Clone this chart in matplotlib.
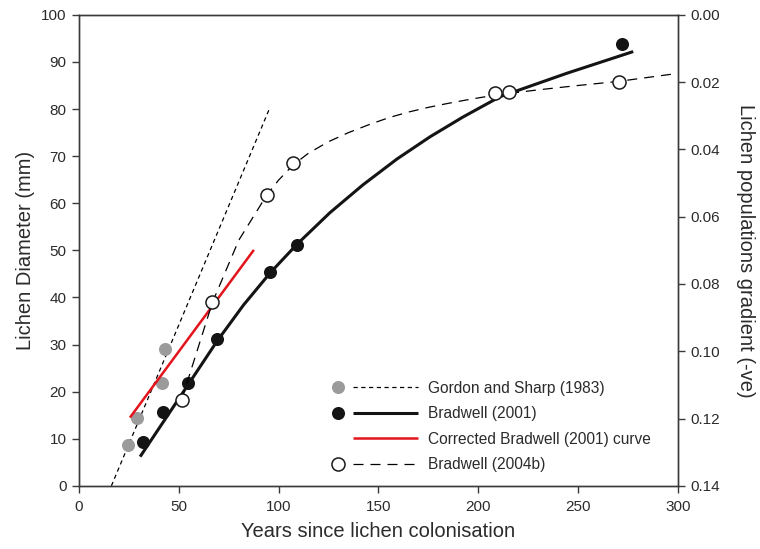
import numpy as np
import matplotlib
matplotlib.use('Agg')
import matplotlib.pyplot as plt
from matplotlib.lines import Line2D
from matplotlib.legend_handler import HandlerBase

plt.rcParams['font.family'] = ['Liberation Sans', 'DejaVu Sans']

# Gordon and Sharp (1983) - measured points and linear fit
gs_years = [24.7, 28.9, 41.4, 43.1]
gs_diam = [8.6, 14.5, 21.9, 29.0]
gs_fit_years = [16.2, 95.6]
gs_fit_diam = [0.0, 80.3]

# Bradwell (2001) - measured points and growth curve
b01_years = [32.2, 42.2, 54.7, 69.0, 95.7, 109.0, 271.8]
b01_diam = [9.3, 15.6, 21.9, 31.2, 45.4, 51.2, 93.8]
b01_curve_years = [30.6, 50.6, 69.1, 82.4, 95.7, 109.2, 125.7, 142.2, 159.3,
                   175.8, 192.3, 210.8, 244.4, 277.6]
b01_curve_diam = [6.2, 18.9, 30.7, 38.4, 45.2, 51.3, 58.0, 63.9, 69.4,
                  74.1, 78.3, 82.6, 87.6, 92.2]

# corrected Bradwell (2001) curve
corr_years = [25.5, 87.6]
corr_diam = [14.5, 50.1]

# Bradwell (2004b) - population gradients (right axis)
b04_years = [51.4, 66.8, 94.0, 107.3, 208.3, 215.4, 270.4]
b04_grad = [0.1144, 0.0855, 0.0535, 0.0441, 0.0231, 0.0228, 0.0200]
b04_curve_years = [51.4, 66.8, 80, 94, 100, 107.3, 115, 125, 135, 145, 155,
                   165, 175, 185, 195, 208, 230, 250, 270, 285, 300]
b04_curve_grad = [0.1144, 0.0855, 0.0670, 0.0536, 0.0491, 0.0446, 0.0411,
                  0.0377, 0.0350, 0.0327, 0.0306, 0.0289, 0.0275, 0.0263,
                  0.0252, 0.0239, 0.0223, 0.0210, 0.0198, 0.0186, 0.0174]

x_ticks = [0, 50, 100, 150, 200, 250, 300]
y_ticks = [0, 10, 20, 30, 40, 50, 60, 70, 80, 90, 100]
grad_ticks = [0.00, 0.02, 0.04, 0.06, 0.08, 0.10, 0.12, 0.14]

ink = '#2b2b2b'
spine_col = '#3a3a3a'
grey_dot = '#9b9b9b'
black_dot = '#141414'
red = '#e3141c'

gs_dash = (0, (3.4, 2.8))
b04_dash = (0, (8.0, 5.6))


class MarkerThenLine(HandlerBase):
    # marker at the left end of the key, line on the right
    def create_artists(self, legend, orig_handle, xdescent, ydescent,
                       width, height, fontsize, trans):
        pts, fit = orig_handle
        x0 = -xdescent
        y = height / 2.0 - ydescent
        artists = []
        if fit is not None:
            ln = Line2D([x0 + 0.253 * width, x0 + width], [y, y])
            ln.update_from(fit)
            ln.set_transform(trans)
            artists.append(ln)
        if pts is not None:
            mk = Line2D([x0 + 0.075 * width], [y], linestyle='none')
            mk.update_from(pts)
            mk.set_linestyle('none')
            mk.set_transform(trans)
            artists.append(mk)
        return artists


fig = plt.figure(figsize=(7.6, 5.49), dpi=100)
ax = fig.add_axes([0.104, 0.115, 0.788, 0.858])
ax2 = ax.twinx()

ms = 9.4

# left axis: diameters
gs_fit, = ax.plot(gs_fit_years, gs_fit_diam, color='black', lw=0.9,
                  linestyle=gs_dash)
gs_pts, = ax.plot(gs_years, gs_diam, 'o', color=grey_dot, ms=ms, mec='none')
b01_fit, = ax.plot(b01_curve_years, b01_curve_diam, color=black_dot, lw=2.2,
                   solid_capstyle='butt', solid_joinstyle='round')
b01_pts, = ax.plot(b01_years, b01_diam, 'o', color=black_dot, ms=ms,
                   mec='none')
corr_fit, = ax.plot(corr_years, corr_diam, color=red, lw=1.8,
                    solid_capstyle='butt')

# right axis: population gradients
b04_fit, = ax2.plot(b04_curve_years, b04_curve_grad, color='black', lw=0.9,
                    linestyle=b04_dash)
b04_pts, = ax2.plot(b04_years, b04_grad, 'o', mfc='white', mec='#1a1a1a',
                    mew=1.1, ms=ms)

ax.set_xlim(0, 300)
ax.set_ylim(0, 100)
ax2.set_ylim(0.14, 0.0)

ax.set_xticks(x_ticks)
ax.set_yticks(y_ticks)
ax2.set_yticks(grad_ticks)
ax2.set_yticklabels([f'{v:.2f}' for v in grad_ticks])

for a in (ax, ax2):
    for s in a.spines.values():
        s.set_color(spine_col)
        s.set_linewidth(1.0)
    a.tick_params(direction='out', length=5, width=1.0, color=spine_col,
                  labelsize=11, labelcolor=ink, pad=4)
ax.tick_params(axis='x', pad=5)

ax.set_xlabel('Years since lichen colonisation', fontsize=14.5, color=ink,
              labelpad=6)
ax.set_ylabel('Lichen Diameter (mm)', fontsize=14.5, color=ink, labelpad=4)
ax2.set_ylabel('Lichen populations gradient (-ve)', fontsize=14.5, color=ink,
               rotation=270, labelpad=25)

handles = [(gs_pts, gs_fit), (b01_pts, b01_fit), (None, corr_fit),
           (b04_pts, b04_fit)]
labels = ['Gordon and Sharp (1983)', 'Bradwell (2001)',
          'Corrected Bradwell (2001) curve', 'Bradwell (2004b)']
leg = ax2.legend(handles, labels, handler_map={tuple: MarkerThenLine()},
                 loc='upper left', bbox_to_anchor=(0.421, 0.2235),
                 frameon=False, fontsize=11.2, handlelength=5.6,
                 handletextpad=0.65, labelspacing=0.675, borderpad=0,
                 borderaxespad=0)
for t in leg.get_texts():
    t.set_color(ink)

fig.savefig('out.png', dpi=100)
